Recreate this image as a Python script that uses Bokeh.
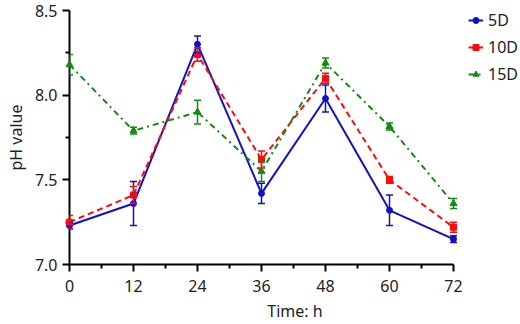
from bokeh.plotting import figure
from bokeh.models import ColumnDataSource, Whisker, TeeHead, FixedTicker, Range1d, Legend, LegendItem, NumeralTickFormatter
from bokeh.embed import file_html
from bokeh.resources import INLINE

time_h = [0, 12, 24, 36, 48, 60, 72]
ph_5d = [7.23, 7.36, 8.30, 7.42, 7.98, 7.32, 7.15]
err_5d = [0.02, 0.13, 0.05, 0.06, 0.08, 0.09, 0.02]
ph_10d = [7.25, 7.41, 8.24, 7.62, 8.10, 7.50, 7.22]
err_10d = [0.04, 0.05, 0.04, 0.05, 0.03, 0.02, 0.03]
ph_15d = [8.18, 7.79, 7.90, 7.55, 8.19, 7.815, 7.36]
err_15d = [0.06, 0.02, 0.07, 0.06, 0.03, 0.02, 0.03]
series_names = ["5D", "10D", "15D"]
x_ticks = [0, 12, 24, 36, 48, 60, 72]
x_minor = [6, 18, 30, 42, 54, 66]
y_ticks = [7.0, 7.5, 8.0, 8.5]
y_minor = [7.25, 7.75, 8.25]

FONT = "Noto Sans"

# frame spans to the right edge so the legend sits inside it; the x axis line is bounded to 0..72
x_end = 72 * 451 / 384
p = figure(width=520, height=324, output_backend="svg", toolbar_location=None,
           x_range=Range1d(0, x_end), y_range=Range1d(7.0, 8.5),
           min_border_left=69, min_border_right=0, min_border_top=10, min_border_bottom=59)
p.outline_line_color = None
p.xgrid.visible = False
p.ygrid.visible = False

colors = ["#1010c4", "#ff0a0a", "#138a13"]
dashes = ["solid", "6 4", "6 4 2 4"]
markers = ["circle", "square", "triangle"]
msizes = [6, 6, 7]
vals = [ph_5d, ph_10d, ph_15d]
errs = [err_5d, err_10d, err_15d]

items = []
for name, c, d, m, ms, v, e in zip(series_names, colors, dashes, markers, msizes, vals, errs):
    src = ColumnDataSource(dict(x=time_h, y=v,
                                upper=[a + b for a, b in zip(v, e)],
                                lower=[a - b for a, b in zip(v, e)]))
    r1 = p.line("x", "y", source=src, line_color=c, line_width=2, line_dash=d, level="annotation")
    r2 = p.scatter("x", "y", source=src, marker=m, size=ms, fill_color=c, line_color=c, level="annotation")
    w = Whisker(source=src, base="x", upper="upper", lower="lower", line_color=c, line_width=1.5,
                upper_head=TeeHead(size=7, line_color=c, line_width=1.5),
                lower_head=TeeHead(size=7, line_color=c, line_width=1.5), level="annotation")
    p.add_layout(w)
    items.append(LegendItem(label=name, renderers=[r1, r2]))

legend = Legend(items=items, location=(399, 179), orientation="vertical",
                background_fill_alpha=0, border_line_color=None,
                padding=0, margin=0, spacing=5, glyph_width=15, glyph_height=22,
                label_height=22, label_standoff=5,
                label_text_font=FONT, label_text_font_size="16px", label_text_color="#222222")
p.add_layout(legend)

for ax in (p.xaxis[0], p.yaxis[0]):
    ax.axis_line_color = "black"
    ax.axis_line_width = 2
    ax.major_tick_line_color = "black"
    ax.major_tick_line_width = 2
    ax.minor_tick_line_color = "black"
    ax.minor_tick_line_width = 2
    ax.major_tick_out = 7
    ax.major_tick_in = 0
    ax.minor_tick_out = 4
    ax.minor_tick_in = 0
    ax.major_label_text_font = FONT
    ax.major_label_text_font_size = "16px"
    ax.major_label_text_color = "#222222"
    ax.axis_label_text_font = FONT
    ax.axis_label_text_font_size = "16px"
    ax.axis_label_text_font_style = "normal"
    ax.axis_label_text_color = "#222222"

p.xaxis[0].bounds = (0, 72)
p.xaxis[0].ticker = FixedTicker(ticks=x_ticks, minor_ticks=x_minor)
p.yaxis[0].ticker = FixedTicker(ticks=y_ticks, minor_ticks=y_minor)
p.yaxis[0].formatter = NumeralTickFormatter(format="0.0")
p.xaxis[0].axis_label = "Time: h"
p.yaxis[0].axis_label = "pH value"
p.xaxis[0].major_label_standoff = 8
p.yaxis[0].major_label_standoff = 5
p.xaxis[0].axis_label_standoff = 5
p.yaxis[0].axis_label_standoff = 5

open("out.html", "w").write(file_html(p, INLINE))
